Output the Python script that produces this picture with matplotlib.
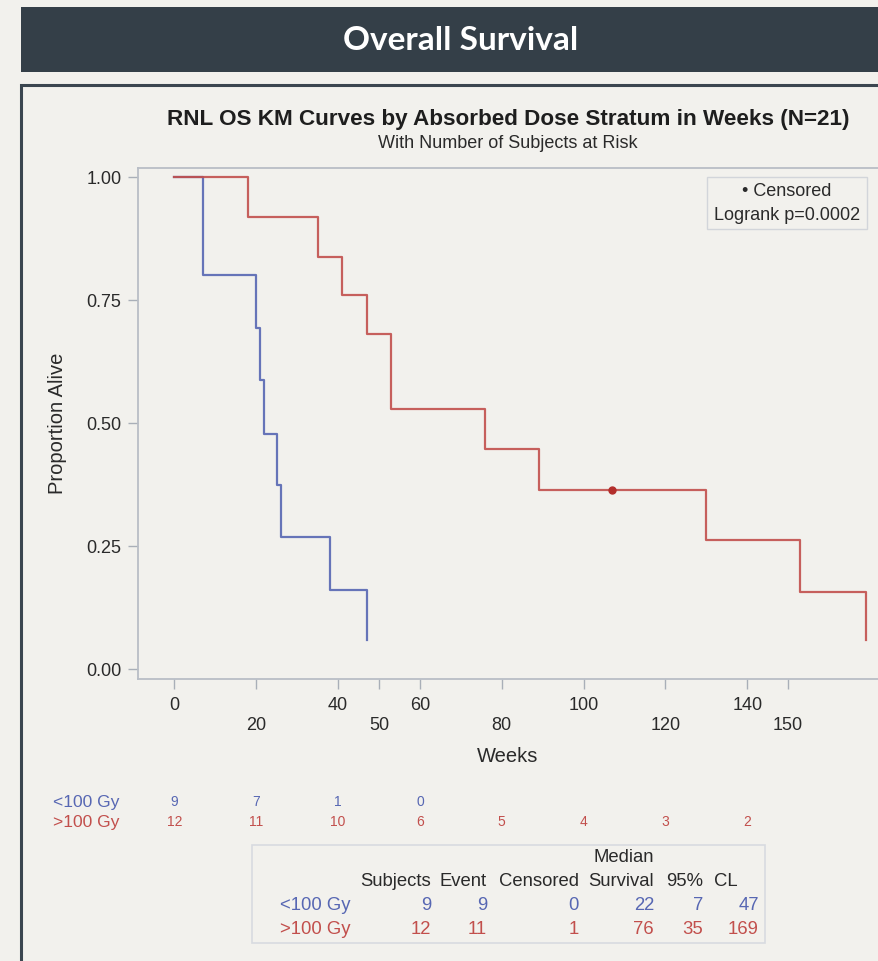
import matplotlib
matplotlib.use("Agg")
import matplotlib.pyplot as plt
import matplotlib.transforms as mtransforms
from matplotlib.patches import Rectangle

# ---- data ----
low_times = [0, 7, 20, 21, 22, 25, 26, 38, 47]
low_surv = [1.0, 0.80, 0.694, 0.587, 0.478, 0.374, 0.268, 0.161, 0.059]

high_times = [0, 18, 35, 41, 47, 53, 76, 89, 130, 153, 169]
high_surv = [1.0, 0.919, 0.838, 0.760, 0.681, 0.528, 0.448, 0.364, 0.262, 0.157, 0.059]

censor_times = [107]
censor_surv = [0.364]

groups = ["<100 Gy", ">100 Gy"]
risk_times = [0, 20, 40, 60, 80, 100, 120, 140]
risk_low = [9, 7, 1, 0]
risk_high = [12, 11, 10, 6, 5, 4, 3, 2]

xticks_top = [0, 40, 60, 100, 140]
xticks_bottom = [20, 50, 80, 120, 150]
yticks = [0.00, 0.25, 0.50, 0.75, 1.00]

summary_cols = ["Subjects", "Event", "Censored", "Survival", "95%"]
summary_low = [9, 9, 0, 22, 7, 47]
summary_high = [12, 11, 1, 76, 35, 169]

BLUE = "#5767b3"
RED = "#c24f4c"
BG = "#f2f1ed"
DARK = "#343f48"
TXT = "#2a2a2a"

W, H = 879, 961
plt.rcParams['font.family'] = ['Liberation Sans', 'DejaVu Sans']


def fx(x):
    return x / W


def fy(y):
    return 1 - y / H


def rect(x0, y0, x1, y1, **kw):
    # rectangle in reference pixel coords
    return Rectangle((fx(x0), fy(y1)), (x1 - x0) / W, (y1 - y0) / H,
                     transform=fig.transFigure, **kw)


fig = plt.figure(figsize=(W / 100, H / 100), dpi=100, facecolor=BG)

# header bar + panel frame (behind the axes)
fig.patches.append(rect(21, 7, 1000, 72, facecolor=DARK, edgecolor='none', zorder=-5))
fig.text(fx(461), fy(40), "Overall Survival", color="white", fontsize=24,
         fontweight='bold', family=['Lato', 'DejaVu Sans'], ha='center', va='center')
fig.patches.append(rect(21, 85, 1000, 1100, facecolor=BG, edgecolor='#3b4650',
                        lw=2.2, zorder=-5))

fig.text(fx(508), fy(119), "RNL OS KM Curves by Absorbed Dose Stratum in Weeks (N=21)",
         fontsize=16.2, fontweight='bold', color='#1e1e1e', ha='center', va='center')
fig.text(fx(508), fy(143), "With Number of Subjects at Risk", fontsize=13,
         color=TXT, ha='center', va='center')

# ---- KM axes ----
ax = fig.add_axes([fx(138), fy(679), (879 - 138) / W, (679 - 168) / H])
ax.set_zorder(2)
ax.set_facecolor(BG)
ax.step(low_times, low_surv, where='post', color=BLUE, lw=1.6, alpha=0.9)
ax.step(high_times, high_surv, where='post', color=RED, lw=1.6, alpha=0.9)
ax.plot(censor_times, censor_surv, 'o', color='#b32e2b', ms=5)

ax.set_xlim(-8.9, 172.2)
ax.set_ylim(-0.0203, 1.0183)

ax.set_yticks(yticks)
ax.set_yticklabels([f"{v:.2f}" for v in yticks], fontsize=13, color=TXT)
ax.set_xticks(xticks_top)
ax.set_xticklabels([str(v) for v in xticks_top], fontsize=13, color=TXT)
ax.set_xticks(xticks_bottom, minor=True)
ax.set_xticklabels([str(v) for v in xticks_bottom], minor=True, fontsize=13, color=TXT)
ax.tick_params(axis='both', which='both', length=7, width=1, color='#a9afb8')
ax.tick_params(axis='x', which='major', pad=6)
ax.tick_params(axis='x', which='minor', pad=20)
ax.tick_params(axis='y', pad=5)

for side in ['left', 'bottom', 'top']:
    ax.spines[side].set_color('#b9bec6')
    ax.spines[side].set_linewidth(1.3)
ax.spines['right'].set_visible(False)

ax.set_ylabel("Proportion Alive", fontsize=14.5, color=TXT, labelpad=14)
fig.text(fx(508), fy(757), "Weeks", fontsize=14.5, color=TXT, ha='center', va='center')

# legend box (inside the axes, so drawn on top of its face)
ax.add_patch(rect(707, 177, 867, 229, facecolor='none', edgecolor='#d2d5da',
                  lw=1, clip_on=False))
legend_kw = dict(fontsize=13, color=TXT, ha='center', va='center', zorder=3)
fig.text(fx(787), fy(191), "\u2022 Censored", **legend_kw)
fig.text(fx(787), fy(215), "Logrank p=0.0002", **legend_kw)

# ---- number at risk ----
blend = mtransforms.blended_transform_factory(ax.transData, fig.transFigure)
fig.text(fx(53), fy(802), groups[0], fontsize=12.6, color=BLUE, ha='left', va='center')
fig.text(fx(53), fy(822), groups[1], fontsize=12.6, color=RED, ha='left', va='center')
for t, n in zip(risk_times, risk_low):
    ax.text(t, fy(802), str(n), transform=blend, fontsize=10, color=BLUE,
            ha='center', va='center', clip_on=False)
for t, n in zip(risk_times, risk_high):
    ax.text(t, fy(822), str(n), transform=blend, fontsize=10, color=RED,
            ha='center', va='center', clip_on=False)

# ---- summary table ----
fig.patches.append(rect(252, 845, 765, 943, facecolor=BG, edgecolor='#d8dbe0',
                        lw=1.2, zorder=-4))
tfs = 13.3
col_right = [431, 487, 579, 654, 703, 759]
fig.text(fx(654), fy(857), "Median", fontsize=tfs, color=TXT, ha='right', va='center')
for x, lab in zip(col_right, summary_cols):
    fig.text(fx(x), fy(881), lab, fontsize=tfs, color=TXT, ha='right', va='center')
fig.text(fx(714), fy(881), "CL", fontsize=tfs, color=TXT, ha='left', va='center')
fig.text(fx(280), fy(905), groups[0], fontsize=tfs, color=BLUE, ha='left', va='center')
fig.text(fx(280), fy(929), groups[1], fontsize=tfs, color=RED, ha='left', va='center')
for x, v in zip(col_right, summary_low):
    fig.text(fx(x), fy(905), str(v), fontsize=tfs, color=BLUE, ha='right', va='center')
for x, v in zip(col_right, summary_high):
    fig.text(fx(x), fy(929), str(v), fontsize=tfs, color=RED, ha='right', va='center')

fig.savefig("out.png", dpi=100, facecolor=BG)
